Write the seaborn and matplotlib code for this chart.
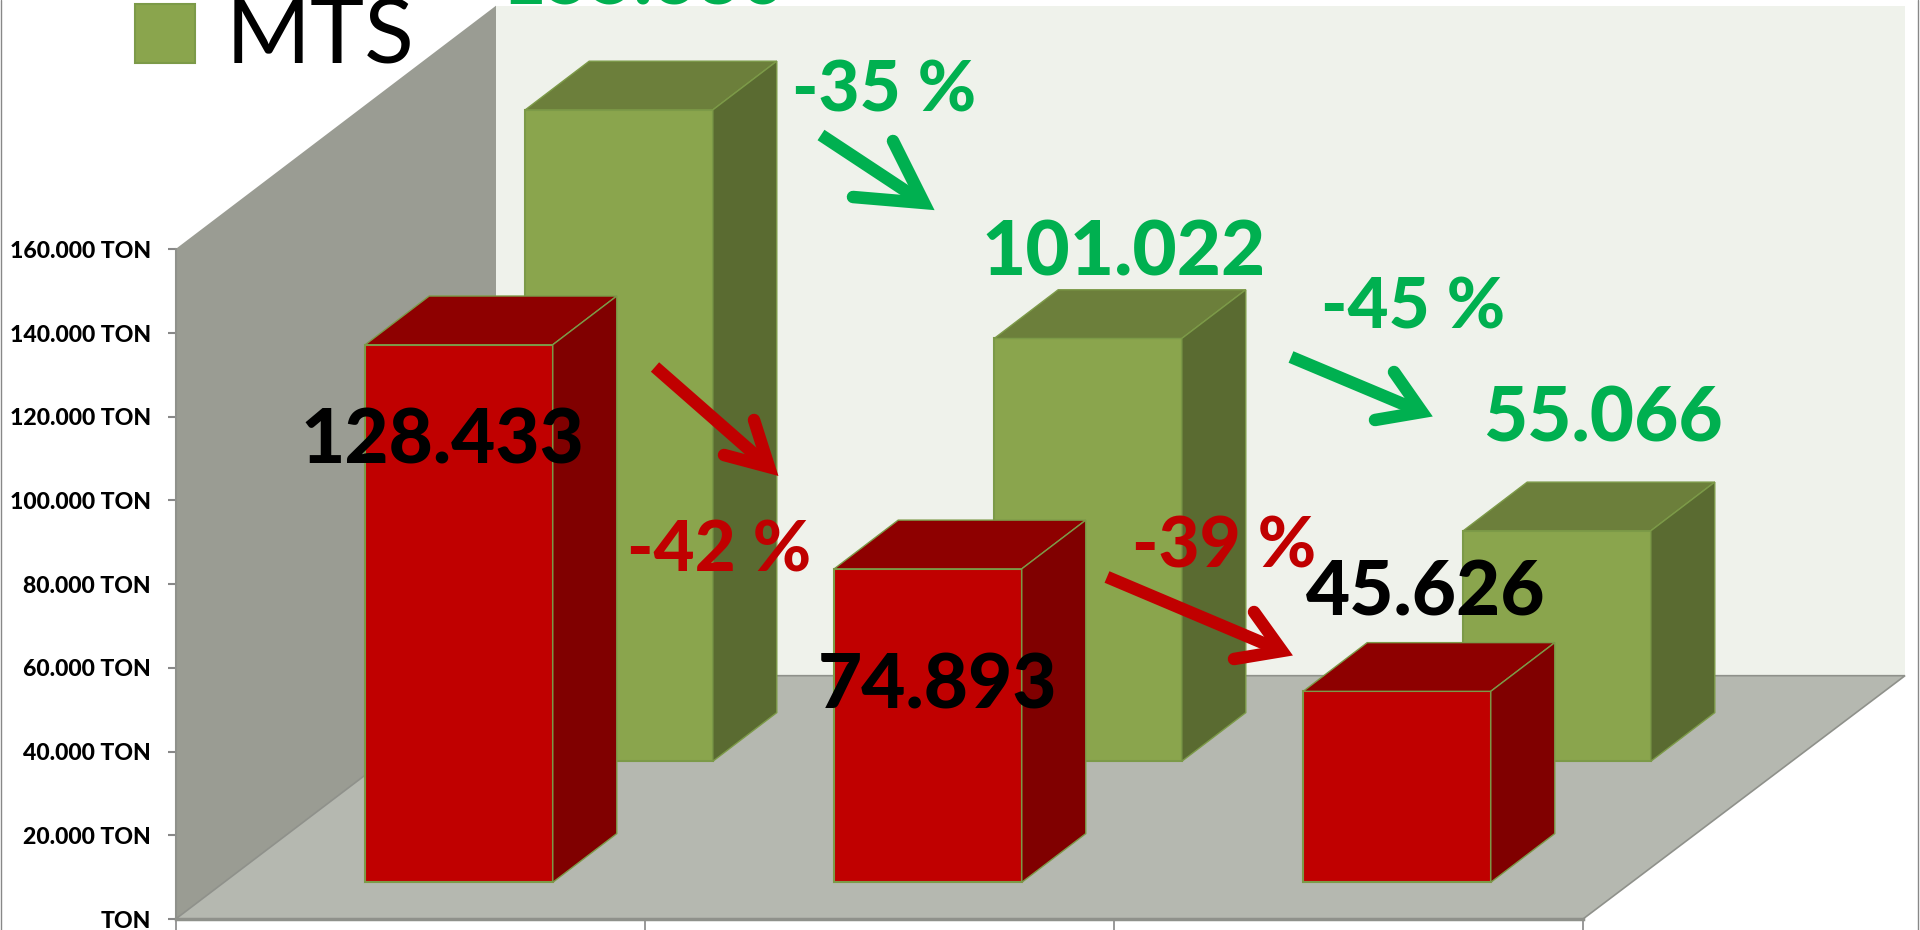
import matplotlib
matplotlib.use("Agg")
import matplotlib.pyplot as plt
import numpy as np
import pandas as pd
import seaborn as sns
from matplotlib.patches import Polygon, Rectangle

# values
categories = ["A", "B", "C"]
red_values = [128433, 74893, 45626]
green_values = [155630, 101022, 55066]
green_change = ["-35 %", "-45 %"]
red_change = ["-42 %", "-39 %"]
y_ticks = [0, 20000, 40000, 60000, 80000, 100000, 120000, 140000, 160000]
legend_name = "MTS"

GREEN_TEXT = "#00B050"
RED_TEXT = "#C00000"
EDGE = "#7C9A48"

W, H = 1920, 930
PX_PER_UNIT = (919 - 249.3) / 160000
CAT_PX = 469.0


def ton_label(v):
    if v == 0:
        return "TON"
    return f"{v:,.0f} TON".replace(",", ".")


def value_label(v):
    return f"{v:,.0f}".replace(",", ".")


def add_depth(ax, patches, top_color, side_color):
    # top and side faces of the fake 3d bars, built from the bars seaborn drew
    dx = 64 / CAT_PX
    dy = 48.7 / PX_PER_UNIT
    for p in patches:
        x0, x1 = p.get_x(), p.get_x() + p.get_width()
        y0, y1 = p.get_y(), p.get_y() + p.get_height()
        ax.add_patch(Polygon([(x0, y1), (x0 + dx, y1 + dy), (x1 + dx, y1 + dy), (x1, y1)],
                             fc=top_color, ec=EDGE, lw=1, clip_on=False, zorder=p.get_zorder()))
        ax.add_patch(Polygon([(x1, y0), (x1 + dx, y0 + dy), (x1 + dx, y1 + dy), (x1, y1)],
                             fc=side_color, ec=EDGE, lw=1, clip_on=False, zorder=p.get_zorder()))


sns.set_theme(style="white")
plt.rcParams["font.family"] = ["Lato", "DejaVu Sans"]

fig = plt.figure(figsize=(W / 100, H / 100), dpi=100)
ax = fig.add_axes([176 / W, 1 - 919 / H, (1583 - 176) / W, (919 - 249.3) / H])

# walls and floor sit behind everything, in picture pixels
bg = fig.add_axes([0, 0, 1, 1], zorder=-1)
bg.set_xlim(0, W)
bg.set_ylim(H, 0)
bg.axis("off")
bg.add_patch(Polygon([(496, 5.7), (1905, 5.7), (1905, 675.7), (496, 675.7)], fc="#EFF2EB", ec="none"))
bg.add_patch(Polygon([(175.7, 249), (496, 5.7), (496, 675.7), (175.7, 919)], fc="#9A9C93", ec="none"))
bg.add_patch(Polygon([(175.7, 919), (496, 675.7), (1905, 675.7), (1583, 919)], fc="#B5B8B0", ec="#8F918B", lw=1.2))
bg.add_patch(Rectangle((135, 4), 60, 59, fc="#8AA54D", ec=EDGE, lw=1.5))
bg.plot([0.5, 0.5], [0, H], color="#888888", lw=1)
bg.plot([1918, 1918], [0, H], color="#888888", lw=1)

ax.patch.set_alpha(0)
positions = np.arange(len(categories))
df = pd.DataFrame({"cat": categories, "pos": positions, "red": red_values, "green": green_values})

# back row first, the red row stands in front of it
sns.barplot(data=df, x=df["pos"] + (619 - 410.5) / CAT_PX, y="green", native_scale=True, width=0.4,
            color="#8AA54D", saturation=1, edgecolor=EDGE, linewidth=1.5,
            bottom=(919 - 761.3) / PX_PER_UNIT, clip_on=False, zorder=2, ax=ax)
green_bars = list(ax.patches)
add_depth(ax, green_bars, "#6C7F3B", "#5A6B31")

n_before = len(ax.patches)
sns.barplot(data=df, x=df["pos"] + (459 - 410.5) / CAT_PX, y="red", native_scale=True, width=0.4,
            color="#C00000", saturation=1, edgecolor=EDGE, linewidth=1.5,
            bottom=(919 - 882.3) / PX_PER_UNIT, clip_on=False, zorder=3, ax=ax)
red_bars = list(ax.patches)[n_before:]
add_depth(ax, red_bars, "#8E0000", "#800000")

ax.set_xlim(-0.5, 2.5)
ax.set_ylim(0, 160000)
ax.set_xlabel("")
ax.set_ylabel("")
ax.set_yticks(y_ticks)
ax.set_yticklabels([ton_label(v) for v in y_ticks], fontsize=16.6, fontweight="black", color="black")
ax.set_xticks([-0.5, 0.5, 1.5, 2.5])
ax.set_xticklabels([])
ax.tick_params(axis="y", length=6, width=1.5, color="#888888", pad=12, left=True)
ax.tick_params(axis="x", length=9, width=1.2, color="#888888", bottom=True)
sns.despine(ax=ax)
ax.spines["left"].set_color("#8F918B")
ax.spines["left"].set_linewidth(1.5)
ax.spines["bottom"].set_color("#8F918B")
ax.spines["bottom"].set_linewidth(2.5)

# text and arrows, in picture pixels
top = fig.add_axes([0, 0, 1, 1], zorder=5)
top.set_xlim(0, W)
top.set_ylim(H, 0)
top.axis("off")
top.patch.set_alpha(0)


def label(x, y, s, color, size=55):
    top.text(x, y, s, color=color, fontsize=size, fontweight="black", ha="center", va="center_baseline", clip_on=False)


def arrow(start, tip, barb_a, barb_b, color):
    top.plot([start[0], tip[0]], [start[1], tip[1]], color=color, lw=9, solid_capstyle="butt")
    top.plot([barb_a[0], tip[0], barb_b[0]], [barb_a[1], tip[1], barb_b[1]], color=color, lw=9,
             solid_capstyle="round", solid_joinstyle="miter")


top.text(226, 63, legend_name, fontsize=66, color="black", ha="left", va="baseline")

label(643, -24, value_label(green_values[0]), GREEN_TEXT)
label(1124, 247, value_label(green_values[1]), GREEN_TEXT)
label(1603, 413, value_label(green_values[2]), GREEN_TEXT)
label(442, 435, value_label(red_values[0]), "black")
label(938, 680, value_label(red_values[1]), "black")
label(1426, 587, value_label(red_values[2]), "black")

label(884, 85, green_change[0], GREEN_TEXT, 51)
label(1413, 302, green_change[1], GREEN_TEXT, 51)
label(719, 545, red_change[0], RED_TEXT, 51)
label(1224, 541, red_change[1], RED_TEXT, 51)

arrow((821, 135), (924, 203), (893, 141), (853, 197), GREEN_TEXT)
arrow((1291, 357), (1422, 412), (1394, 372), (1375, 420), GREEN_TEXT)
arrow((655, 367), (769, 467), (754, 420), (724, 455), RED_TEXT)
arrow((1107, 577), (1282, 651), (1254, 612), (1234, 659), RED_TEXT)

fig.savefig("out.png", dpi=100)
